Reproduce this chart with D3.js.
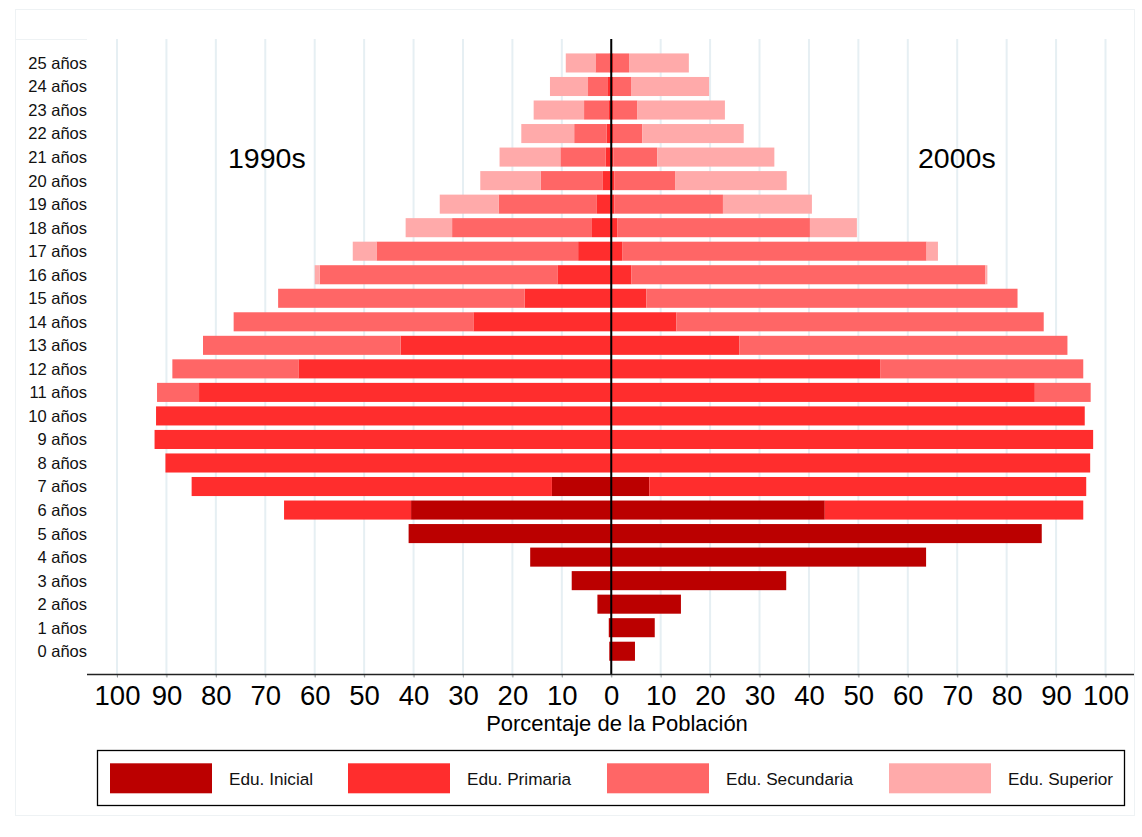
<!DOCTYPE html>
<html>
<head>
<meta charset="utf-8">
<script src="https://cdn.jsdelivr.net/npm/d3@7"></script>
<style>
  body { margin: 0; background: #fff; }
  svg { font-family: "Liberation Sans", Arial, sans-serif; }
</style>
</head>
<body>
<svg></svg>
<script>
// tamaño del lienzo
var width = 1142;
var height = 837;
var svg = d3.select("svg").attr("width", width).attr("height", height);

// datos: edades 0..25, porcentaje por nivel educativo
var ages = d3.range(0, 26);
var levels = ["Edu. Inicial", "Edu. Primaria", "Edu. Secundaria", "Edu. Superior"];
var colors = ["#BB0000", "#FF2D2D", "#FF6666", "#FFAAAA"];
var ticks = [-100, -90, -80, -70, -60, -50, -40, -30, -20, -10, 0, 10, 20, 30, 40, 50, 60, 70, 80, 90, 100];

// 1990s (izquierda)
var ini90 = [0.4, 0.5, 2.8, 8.0, 16.4, 41.0, 40.5, 12.0, 0, 0, 0, 0, 0, 0, 0, 0, 0, 0, 0, 0, 0, 0, 0, 0, 0, 0];
var pri90 = [0, 0, 0, 0, 0, 0, 25.7, 72.9, 90.2, 92.4, 92.1, 83.4, 63.3, 42.6, 27.9, 17.5, 10.9, 6.7, 3.9, 2.9, 1.8, 1.1, 0.9, 0.6, 0.8, 0.4];
var sec90 = [0, 0, 0, 0, 0, 0, 0, 0, 0, 0, 0, 8.5, 25.5, 40.0, 48.5, 49.9, 48.1, 40.8, 28.3, 19.9, 12.5, 9.2, 6.6, 4.9, 3.9, 2.8];
var sup90 = [0, 0, 0, 0, 0, 0, 0, 0, 0, 0, 0, 0, 0, 0, 0, 0, 1.0, 4.8, 9.4, 11.9, 12.2, 12.3, 10.7, 10.2, 7.7, 6.0];

// 2000s (derecha)
var ini00 = [4.8, 8.8, 14.1, 35.4, 63.7, 87.1, 43.2, 7.7, 0, 0, 0, 0, 0, 0, 0, 0, 0, 0, 0, 0, 0, 0, 0, 0, 0, 0];
var pri00 = [0, 0, 0, 0, 0, 0, 52.3, 88.4, 96.9, 97.5, 95.8, 85.7, 54.4, 25.9, 13.2, 7.1, 4.1, 2.2, 1.2, 0.6, 0.6, 0.4, 0.5, 0.5, 0.5, 0.5];
var sec00 = [0, 0, 0, 0, 0, 0, 0, 0, 0, 0, 0, 11.3, 41.1, 66.4, 74.3, 75.1, 71.6, 61.6, 39.0, 22.0, 12.4, 8.9, 5.8, 4.8, 3.5, 3.1];
var sup00 = [0, 0, 0, 0, 0, 0, 0, 0, 0, 0, 0, 0, 0, 0, 0, 0, 0.4, 2.3, 9.5, 18.0, 22.5, 23.7, 20.5, 17.7, 15.8, 12.1];

// escalas
var x = d3.scaleLinear().domain([-100, 100]).range([117, 1105.5]);
var y = d3.scaleBand()
    .domain(ages.slice().reverse())
    .range([51.2, 663])
    .paddingInner(0.19)
    .paddingOuter(0.095);

// marco exterior
svg.append("rect")
    .attr("x", 15.5).attr("y", 9.5)
    .attr("width", 1119).attr("height", 806)
    .attr("fill", "none")
    .attr("stroke", "#eef2f4");
svg.append("line")
    .attr("x1", 15).attr("x2", 87).attr("y1", 39.5).attr("y2", 39.5)
    .attr("stroke", "#eef2f4");

// lineas de grilla
svg.append("g").selectAll("line")
    .data(ticks)
    .enter().append("line")
    .attr("x1", d => x(d)).attr("x2", d => x(d))
    .attr("y1", 39).attr("y2", 677)
    .attr("stroke", "#e6eff3")
    .attr("stroke-width", 2);

// barras apiladas
function side(ini, pri, sec, sup, sign) {
    var rows = ages.map(a => ({ age: a, v0: ini[a], v1: pri[a], v2: sec[a], v3: sup[a] }));
    var stack = d3.stack().keys(["v0", "v1", "v2", "v3"]);
    var series = stack(rows);
    svg.append("g").selectAll("g")
        .data(series)
        .enter().append("g")
        .attr("fill", (d, i) => colors[i])
        .selectAll("rect")
        .data(d => d.filter(s => s[1] - s[0] > 0))
        .enter().append("rect")
        .attr("x", s => sign < 0 ? x(-s[1]) : x(s[0]))
        .attr("width", s => x(s[1]) - x(s[0]))
        .attr("y", s => y(s.data.age))
        .attr("height", y.bandwidth());
}
side(ini90, pri90, sec90, sup90, -1);
side(ini00, pri00, sec00, sup00, 1);

// linea central
svg.append("line")
    .attr("x1", x(0)).attr("x2", x(0))
    .attr("y1", 39).attr("y2", 675)
    .attr("stroke", "#000")
    .attr("stroke-width", 2);

// etiquetas de edad
svg.append("g").selectAll("text")
    .data(ages)
    .enter().append("text")
    .attr("x", 87)
    .attr("y", d => y(d) + y.bandwidth() / 2)
    .attr("dy", "0.36em")
    .attr("text-anchor", "end")
    .attr("font-size", "16.5px")
    .attr("fill", "#111")
    .text(d => d + " años");

// eje x
var axis = d3.axisBottom(x)
    .tickValues(ticks)
    .tickSize(3)
    .tickPadding(8)
    .tickFormat(d => Math.abs(d));
var gx = svg.append("g")
    .attr("transform", "translate(0,674.5)")
    .call(axis);
gx.select(".domain").remove();
gx.selectAll(".tick line").attr("stroke", "#999");
gx.selectAll(".tick text")
    .attr("font-size", "27.5px")
    .attr("font-family", "Liberation Sans, Arial, sans-serif")
    .attr("fill", "#000");
svg.append("line")
    .attr("x1", 87).attr("x2", 1134)
    .attr("y1", 674.5).attr("y2", 674.5)
    .attr("stroke", "#222")
    .attr("stroke-width", 1.3);

svg.append("text")
    .attr("x", 617).attr("y", 731)
    .attr("text-anchor", "middle")
    .attr("font-size", "22px")
    .text("Porcentaje de la Población");

// titulos de década
svg.append("text").attr("x", 228).attr("y", 168).attr("font-size", "28.5px").text("1990s");
svg.append("text").attr("x", 918).attr("y", 168).attr("font-size", "28.5px").text("2000s");

// leyenda
svg.append("rect")
    .attr("x", 97.5).attr("y", 750.5)
    .attr("width", 1027).attr("height", 55)
    .attr("fill", "none")
    .attr("stroke", "#000")
    .attr("stroke-width", 1.3);
var legendX = [110, 348, 607, 889];
levels.forEach((label, i) => {
    svg.append("rect")
        .attr("x", legendX[i]).attr("y", 763.3)
        .attr("width", 102).attr("height", 30)
        .attr("fill", colors[i]);
    svg.append("text")
        .attr("x", legendX[i] + 119).attr("y", 785)
        .attr("font-size", "17.2px")
        .attr("fill", "#111")
        .text(label);
});
</script>
</body>
</html>
